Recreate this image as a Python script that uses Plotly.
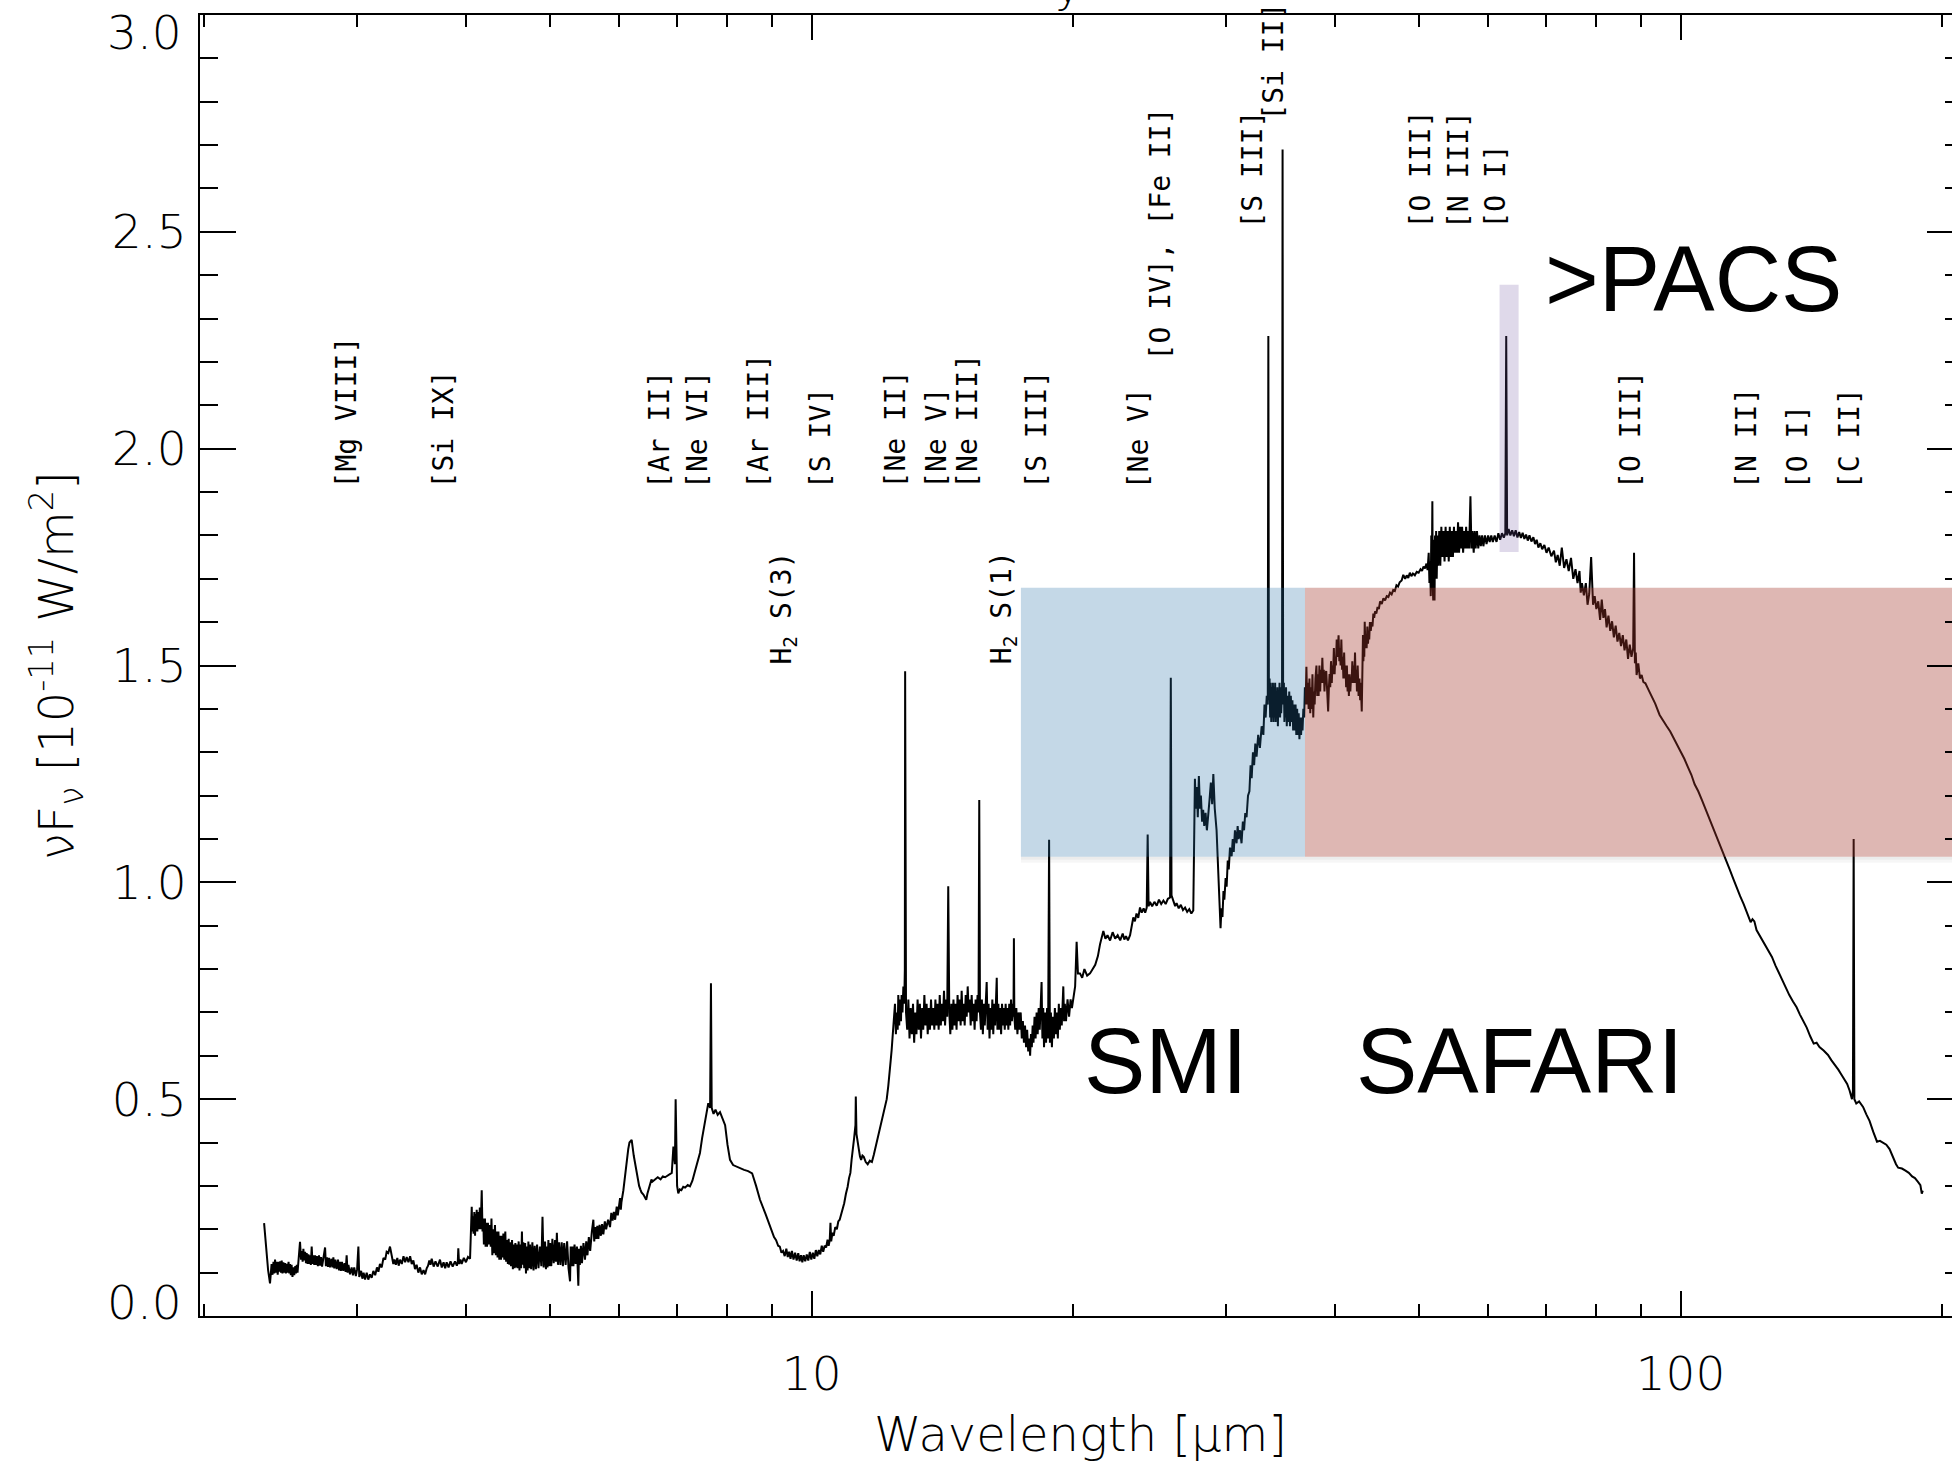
import math
import plotly.graph_objects as go

# ---------------------------------------------------------------------------
# Spectrum, read as (wavelength [micron], nu F_nu [1e-11 W/m^2]) pairs
# ---------------------------------------------------------------------------
seg_nir = [
    (2.343, 0.214), (2.355, 0.160), (2.368, 0.106), (2.380, 0.075), (2.390, 0.120),
    (2.396, 0.095), (2.402, 0.125), (2.407, 0.098), (2.412, 0.130), (2.418, 0.100),
    (2.423, 0.125), (2.429, 0.095), (2.435, 0.125), (2.440, 0.102), (2.445, 0.126),
    (2.450, 0.100), (2.455, 0.128), (2.460, 0.098), (2.466, 0.124), (2.471, 0.100),
    (2.477, 0.122), (2.482, 0.098), (2.488, 0.120), (2.494, 0.100), (2.500, 0.125),
    (2.505, 0.098), (2.510, 0.120), (2.515, 0.094), (2.520, 0.118), (2.526, 0.090),
    (2.532, 0.112), (2.538, 0.094), (2.545, 0.115), (2.550, 0.098), (2.555, 0.118),
    (2.560, 0.100), (2.565, 0.120), (2.577, 0.171), (2.584, 0.130), (2.590, 0.150),
    (2.595, 0.125), (2.600, 0.155), (2.606, 0.128), (2.612, 0.148), (2.618, 0.122),
    (2.623, 0.145), (2.629, 0.120), (2.635, 0.142), (2.640, 0.120), (2.645, 0.140),
    (2.652, 0.118), (2.658, 0.160), (2.664, 0.120), (2.670, 0.140), (2.676, 0.118),
    (2.682, 0.140), (2.688, 0.118), (2.694, 0.138), (2.702, 0.115), (2.710, 0.140),
    (2.718, 0.116), (2.725, 0.136), (2.732, 0.114), (2.740, 0.135), (2.754, 0.158),
    (2.760, 0.115), (2.768, 0.135), (2.775, 0.113), (2.782, 0.134), (2.790, 0.112),
    (2.800, 0.132), (2.808, 0.112), (2.815, 0.135), (2.822, 0.110), (2.830, 0.130),
    (2.840, 0.108), (2.850, 0.130), (2.858, 0.105), (2.865, 0.125), (2.872, 0.104),
    (2.880, 0.125), (2.890, 0.104), (2.900, 0.122), (2.908, 0.102), (2.916, 0.140),
    (2.923, 0.100), (2.930, 0.118), (2.942, 0.096), (2.955, 0.112), (2.965, 0.094),
    (2.975, 0.112), (2.988, 0.092), (2.998, 0.108), (3.008, 0.160), (3.015, 0.090),
    (3.030, 0.104), (3.040, 0.086), (3.050, 0.100), (3.062, 0.084), (3.075, 0.100),
    (3.088, 0.084), (3.102, 0.096), (3.116, 0.088), (3.130, 0.104), (3.145, 0.094),
    (3.160, 0.112), (3.172, 0.102), (3.185, 0.120), (3.200, 0.112), (3.215, 0.134),
    (3.230, 0.130), (3.242, 0.148), (3.256, 0.145), (3.271, 0.160), (3.290, 0.135),
    (3.300, 0.120), (3.310, 0.130), (3.322, 0.118), (3.335, 0.134), (3.347, 0.116),
    (3.359, 0.130), (3.375, 0.120), (3.390, 0.138), (3.405, 0.124), (3.419, 0.136),
    (3.435, 0.124), (3.450, 0.138), (3.465, 0.120), (3.480, 0.128), (3.495, 0.108),
    (3.510, 0.118), (3.526, 0.100), (3.542, 0.112), (3.558, 0.096), (3.575, 0.106),
    (3.590, 0.096), (3.605, 0.110), (3.618, 0.116), (3.630, 0.128), (3.642, 0.118),
    (3.653, 0.132), (3.672, 0.114), (3.690, 0.126), (3.712, 0.114), (3.734, 0.130),
    (3.752, 0.112), (3.770, 0.124), (3.786, 0.110), (3.801, 0.124), (3.820, 0.112),
    (3.840, 0.126), (3.862, 0.114), (3.886, 0.126), (3.905, 0.116), (3.915, 0.126),
    (3.920, 0.156), (3.928, 0.120), (3.942, 0.130), (3.955, 0.120), (3.978, 0.134),
    (4.000, 0.124), (4.022, 0.136), (4.044, 0.132),
]

seg_pah = [
    (4.062, 0.252), (4.068, 0.195), (4.075, 0.230), (4.082, 0.190), (4.090, 0.240),
    (4.098, 0.185), (4.104, 0.235), (4.110, 0.195), (4.116, 0.245), (4.123, 0.195),
    (4.131, 0.240), (4.140, 0.200), (4.150, 0.250), (4.160, 0.200), (4.171, 0.290),
    (4.180, 0.195), (4.188, 0.225), (4.195, 0.165), (4.207, 0.225), (4.214, 0.160),
    (4.220, 0.215), (4.230, 0.160), (4.240, 0.215), (4.252, 0.165), (4.264, 0.210),
    (4.272, 0.160), (4.280, 0.225), (4.290, 0.140), (4.300, 0.200), (4.310, 0.145),
    (4.320, 0.210), (4.330, 0.140), (4.340, 0.195), (4.350, 0.135), (4.360, 0.195),
    (4.370, 0.130), (4.380, 0.185), (4.390, 0.130), (4.400, 0.185), (4.408, 0.135),
    (4.417, 0.190), (4.428, 0.130), (4.440, 0.195), (4.450, 0.125), (4.460, 0.175),
    (4.470, 0.120), (4.480, 0.178), (4.488, 0.118), (4.496, 0.170), (4.508, 0.115),
    (4.520, 0.175), (4.530, 0.108), (4.540, 0.165), (4.550, 0.110), (4.560, 0.168),
    (4.568, 0.112), (4.576, 0.165), (4.588, 0.110), (4.600, 0.172), (4.610, 0.105),
    (4.620, 0.165), (4.630, 0.110), (4.640, 0.195), (4.648, 0.118), (4.657, 0.170),
    (4.668, 0.110), (4.680, 0.168), (4.690, 0.098), (4.700, 0.160), (4.710, 0.105),
    (4.720, 0.172), (4.730, 0.110), (4.740, 0.165), (4.755, 0.108), (4.770, 0.170),
    (4.785, 0.105), (4.800, 0.162), (4.815, 0.108), (4.830, 0.165), (4.848, 0.110),
    (4.867, 0.160), (4.885, 0.115), (4.900, 0.229), (4.915, 0.112), (4.933, 0.172),
    (4.945, 0.108), (4.955, 0.160), (4.965, 0.112), (4.977, 0.175), (4.988, 0.115),
    (5.000, 0.168), (5.015, 0.115), (5.030, 0.178), (5.048, 0.122), (5.066, 0.175),
    (5.078, 0.125), (5.090, 0.192), (5.105, 0.118), (5.120, 0.170), (5.138, 0.118),
    (5.156, 0.170), (5.172, 0.115), (5.190, 0.168), (5.210, 0.118), (5.230, 0.172),
    (5.250, 0.110), (5.271, 0.080), (5.280, 0.160), (5.290, 0.115), (5.304, 0.160),
    (5.318, 0.115), (5.334, 0.165), (5.350, 0.120), (5.368, 0.160), (5.388, 0.070),
    (5.398, 0.155), (5.410, 0.118), (5.425, 0.162), (5.440, 0.122), (5.462, 0.168),
    (5.484, 0.130), (5.502, 0.172), (5.520, 0.140), (5.540, 0.182), (5.560, 0.150),
    (5.585, 0.195), (5.607, 0.222), (5.620, 0.172), (5.635, 0.205), (5.650, 0.178),
    (5.666, 0.208), (5.682, 0.178), (5.700, 0.210), (5.720, 0.185), (5.738, 0.212),
    (5.757, 0.188), (5.780, 0.218), (5.800, 0.200), (5.830, 0.222), (5.860, 0.205),
    (5.880, 0.238), (5.900, 0.220), (5.920, 0.240), (5.940, 0.222), (5.965, 0.252),
    (5.982, 0.232), (6.000, 0.252), (6.018, 0.272), (6.030, 0.245), (6.040, 0.262),
    (6.071, 0.290), (6.100, 0.330), (6.125, 0.360), (6.150, 0.385), (6.170, 0.400),
    (6.206, 0.406), (6.240, 0.370), (6.262, 0.352), (6.289, 0.340), (6.310, 0.318),
    (6.330, 0.300), (6.350, 0.292), (6.370, 0.285), (6.402, 0.280), (6.425, 0.272),
    (6.450, 0.268), (6.470, 0.282), (6.490, 0.290), (6.516, 0.305), (6.540, 0.315),
    (6.560, 0.310), (6.604, 0.314), (6.650, 0.320), (6.700, 0.315), (6.740, 0.322),
    (6.781, 0.320), (6.850, 0.325), (6.902, 0.330), (6.932, 0.391), (6.960, 0.350),
    (6.973, 0.500), (6.985, 0.360), (7.000, 0.300), (7.022, 0.283), (7.050, 0.292),
    (7.080, 0.290), (7.115, 0.298), (7.150, 0.296), (7.200, 0.302), (7.243, 0.299),
    (7.290, 0.312), (7.330, 0.330), (7.385, 0.352), (7.437, 0.376), (7.480, 0.410),
    (7.520, 0.440), (7.560, 0.470), (7.603, 0.491), (7.640, 0.480), (7.657, 0.767),
    (7.672, 0.480), (7.710, 0.466), (7.750, 0.476), (7.795, 0.464), (7.843, 0.470),
    (7.900, 0.455), (7.950, 0.440), (8.000, 0.395), (8.054, 0.360), (8.120, 0.348),
    (8.197, 0.344), (8.280, 0.340), (8.360, 0.337), (8.450, 0.334), (8.540, 0.329),
    (8.630, 0.300), (8.720, 0.268), (8.850, 0.235), (8.930, 0.215), (9.000, 0.198),
    (9.050, 0.182), (9.100, 0.175), (9.150, 0.162), (9.190, 0.160), (9.230, 0.146),
    (9.270, 0.150), (9.310, 0.138), (9.350, 0.155), (9.385, 0.136), (9.420, 0.148),
    (9.455, 0.132), (9.490, 0.150), (9.530, 0.130), (9.570, 0.146), (9.610, 0.128),
    (9.650, 0.145), (9.685, 0.126), (9.720, 0.140), (9.755, 0.124), (9.790, 0.140),
    (9.830, 0.126), (9.870, 0.142), (9.910, 0.128), (9.950, 0.148), (9.990, 0.130),
    (10.030, 0.146), (10.070, 0.132), (10.110, 0.152), (10.150, 0.138), (10.190, 0.152),
    (10.230, 0.142), (10.270, 0.162), (10.310, 0.148), (10.350, 0.162), (10.390, 0.158),
    (10.430, 0.176), (10.460, 0.162), (10.490, 0.175), (10.510, 0.215), (10.530, 0.172),
    (10.565, 0.192), (10.600, 0.185), (10.645, 0.205), (10.690, 0.200), (10.730, 0.218),
    (10.770, 0.222), (10.840, 0.240), (10.900, 0.260), (10.950, 0.282), (11.000, 0.298),
    (11.040, 0.318), (11.080, 0.330), (11.115, 0.360), (11.150, 0.380), (11.190, 0.410),
    (11.230, 0.440), (11.240, 0.506), (11.260, 0.420), (11.295, 0.395), (11.330, 0.385),
    (11.365, 0.368), (11.400, 0.360), (11.440, 0.370), (11.480, 0.367), (11.540, 0.355),
    (11.600, 0.350), (11.665, 0.358), (11.730, 0.355), (11.790, 0.372), (11.850, 0.390),
    (11.900, 0.405), (11.950, 0.420), (12.000, 0.438), (12.050, 0.450), (12.100, 0.468),
    (12.150, 0.485), (12.200, 0.500), (12.250, 0.530), (12.300, 0.560), (12.330, 0.590),
    (12.360, 0.613), (12.390, 0.650), (12.420, 0.680),
]

seg_mir = [
    (12.47, 0.72), (12.50, 0.65), (12.53, 0.70), (12.56, 0.66), (12.58, 0.74),
    (12.61, 0.67), (12.64, 0.73), (12.67, 0.68), (12.69, 0.74), (12.72, 0.70),
    (12.75, 0.76), (12.78, 0.72), (12.80, 0.80), (12.81, 1.487), (12.82, 0.78),
    (12.84, 0.70), (12.88, 0.66), (12.92, 0.73), (12.96, 0.64), (13.00, 0.71),
    (13.04, 0.65), (13.08, 0.72), (13.12, 0.63), (13.16, 0.70), (13.20, 0.65),
    (13.24, 0.73), (13.28, 0.66), (13.32, 0.72), (13.36, 0.64), (13.40, 0.71),
    (13.44, 0.66), (13.48, 0.74), (13.52, 0.67), (13.56, 0.72), (13.60, 0.65),
    (13.64, 0.71), (13.68, 0.66), (13.72, 0.73), (13.76, 0.67), (13.80, 0.71),
    (13.84, 0.66), (13.88, 0.73), (13.92, 0.67), (13.96, 0.72), (14.00, 0.66),
    (14.04, 0.74), (14.08, 0.67), (14.12, 0.72), (14.16, 0.68), (14.20, 0.75),
    (14.24, 0.67), (14.28, 0.73), (14.32, 0.69), (14.36, 0.991), (14.40, 0.70),
    (14.44, 0.65), (14.48, 0.72), (14.52, 0.66), (14.56, 0.73), (14.60, 0.67),
    (14.64, 0.72), (14.68, 0.66), (14.72, 0.74), (14.76, 0.68), (14.80, 0.73),
    (14.84, 0.67), (14.88, 0.75), (14.92, 0.68), (14.96, 0.72), (15.00, 0.67),
    (15.04, 0.74), (15.08, 0.69), (15.12, 0.76), (15.16, 0.70), (15.20, 0.73),
    (15.24, 0.67), (15.28, 0.74), (15.32, 0.68), (15.36, 0.72), (15.40, 0.66),
    (15.44, 0.73), (15.48, 0.68), (15.52, 0.74), (15.56, 0.70), (15.59, 1.190),
    (15.62, 0.70), (15.66, 0.66), (15.70, 0.73), (15.74, 0.65), (15.78, 0.72),
    (15.82, 0.67), (15.86, 0.74), (15.90, 0.77), (15.94, 0.66), (15.98, 0.72),
    (16.02, 0.64), (16.06, 0.71), (16.10, 0.66), (16.14, 0.73), (16.18, 0.65),
    (16.22, 0.72), (16.26, 0.67), (16.30, 0.73), (16.33, 0.78), (16.36, 0.66),
    (16.40, 0.72), (16.44, 0.66), (16.48, 0.71), (16.52, 0.65), (16.56, 0.72),
    (16.60, 0.67), (16.64, 0.71), (16.68, 0.66), (16.72, 0.72), (16.76, 0.67),
    (16.80, 0.71), (16.84, 0.66), (16.88, 0.72), (16.92, 0.67), (16.96, 0.73),
    (17.00, 0.68), (17.04, 0.72), (17.07, 0.69), (17.09, 0.871), (17.11, 0.69),
    (17.15, 0.66), (17.20, 0.71), (17.25, 0.65), (17.30, 0.70), (17.35, 0.66),
    (17.40, 0.70), (17.45, 0.64), (17.50, 0.68), (17.55, 0.63), (17.60, 0.67),
    (17.65, 0.62), (17.70, 0.66), (17.75, 0.61), (17.80, 0.64), (17.84, 0.60),
    (17.88, 0.65), (17.92, 0.62), (17.96, 0.67), (18.00, 0.63), (18.05, 0.69),
    (18.10, 0.64), (18.15, 0.70), (18.20, 0.65), (18.25, 0.71), (18.30, 0.66),
    (18.35, 0.72), (18.39, 0.77), (18.43, 0.64), (18.47, 0.71), (18.51, 0.62),
    (18.56, 0.70), (18.61, 0.63), (18.66, 0.71), (18.71, 0.64), (18.76, 1.098),
    (18.80, 0.63), (18.85, 0.70), (18.90, 0.62), (18.95, 0.69), (19.00, 0.64),
    (19.05, 0.71), (19.10, 0.65), (19.15, 0.70), (19.20, 0.64), (19.25, 0.72),
    (19.30, 0.66), (19.35, 0.71), (19.40, 0.67), (19.45, 0.73), (19.48, 0.76),
    (19.52, 0.68), (19.56, 0.72), (19.62, 0.68), (19.70, 0.73), (19.78, 0.69),
    (19.86, 0.73), (19.93, 0.71), (20.01, 0.74), (20.10, 0.76), (20.18, 0.863),
    (20.25, 0.79), (20.36, 0.79), (20.48, 0.78), (20.60, 0.80), (20.75, 0.785),
    (20.91, 0.79), (21.05, 0.80), (21.20, 0.81), (21.35, 0.83), (21.47, 0.857),
]

seg_sil = [
    (21.66, 0.888), (21.78, 0.870), (21.90, 0.878), (22.05, 0.866), (22.20, 0.885),
    (22.35, 0.870), (22.50, 0.878), (22.65, 0.866), (22.80, 0.882), (22.90, 0.868),
    (23.00, 0.876), (23.12, 0.866), (23.25, 0.878), (23.45, 0.919), (23.55, 0.910),
    (23.65, 0.928), (23.76, 0.918), (23.87, 0.942), (23.98, 0.930), (24.10, 0.940),
    (24.20, 0.930), (24.30, 0.942), (24.36, 1.110), (24.42, 0.945), (24.51, 0.955),
    (24.65, 0.945), (24.80, 0.955), (24.95, 0.946), (25.10, 0.960), (25.25, 0.950),
    (25.40, 0.958), (25.55, 0.950), (25.70, 0.962), (25.85, 0.965), (25.90, 1.4715),
    (25.95, 0.970), (26.10, 0.955), (26.20, 0.945), (26.30, 0.952), (26.45, 0.940),
    (26.60, 0.948), (26.75, 0.936), (26.90, 0.942), (27.05, 0.932), (27.20, 0.938),
    (27.35, 0.928), (27.49, 0.935), (27.61, 1.239), (27.68, 1.17), (27.75, 1.22),
    (27.82, 1.15), (27.90, 1.245), (27.98, 1.17), (28.05, 1.20), (28.14, 1.14),
    (28.22, 1.167), (28.30, 1.13), (28.40, 1.16), (28.50, 1.12), (28.60, 1.15),
    (28.70, 1.19), (28.80, 1.23), (28.90, 1.18), (28.99, 1.25), (29.10, 1.17),
    (29.24, 1.12), (29.32, 1.05), (29.40, 0.98), (29.48, 0.93), (29.55, 0.894),
    (29.62, 0.94), (29.70, 0.92), (29.78, 0.98), (29.85, 0.96), (29.95, 1.01),
    (30.03, 0.99), (30.12, 1.05), (30.20, 1.03), (30.30, 1.08), (30.43, 1.06),
    (30.52, 1.10), (30.60, 1.07), (30.70, 1.12), (30.83, 1.09), (30.92, 1.13),
    (31.00, 1.10), (31.12, 1.12), (31.24, 1.09), (31.35, 1.14), (31.45, 1.12),
    (31.55, 1.16), (31.66, 1.15), (31.78, 1.20), (31.90, 1.21), (32.00, 1.27),
    (32.09, 1.24), (32.20, 1.30), (32.30, 1.27), (32.40, 1.32), (32.51, 1.29),
    (32.65, 1.34), (32.80, 1.31), (32.95, 1.36), (33.10, 1.34), (33.20, 1.41),
    (33.30, 1.38), (33.40, 1.43), (33.49, 1.41), (33.54, 2.26), (33.59, 1.42),
    (33.65, 1.47), (33.70, 1.38), (33.75, 1.46), (33.80, 1.37), (33.85, 1.45),
    (33.90, 1.38), (33.95, 1.46), (34.00, 1.37), (34.05, 1.45), (34.10, 1.38),
    (34.15, 1.46), (34.20, 1.37), (34.25, 1.44), (34.30, 1.38), (34.35, 1.45),
    (34.40, 1.36), (34.45, 1.44), (34.50, 1.39), (34.55, 1.46), (34.60, 1.38),
    (34.65, 1.45), (34.70, 1.39), (34.78, 1.44), (34.83, 2.69), (34.88, 1.41),
    (34.95, 1.46), (35.00, 1.37), (35.05, 1.44), (35.10, 1.38), (35.15, 1.45),
    (35.22, 1.36), (35.30, 1.43), (35.38, 1.37), (35.45, 1.44), (35.52, 1.36),
    (35.60, 1.43), (35.68, 1.37), (35.75, 1.42), (35.82, 1.35), (35.90, 1.41),
    (35.98, 1.35), (36.05, 1.41), (36.12, 1.34), (36.20, 1.40), (36.28, 1.34),
    (36.35, 1.39), (36.42, 1.33), (36.50, 1.38), (36.58, 1.34), (36.65, 1.38),
    (36.72, 1.35), (36.80, 1.40), (36.88, 1.38), (36.95, 1.45), (37.02, 1.41),
    (37.10, 1.497), (37.18, 1.41), (37.25, 1.46), (37.32, 1.40), (37.40, 1.47),
    (37.48, 1.39), (37.55, 1.45), (37.62, 1.40), (37.70, 1.48), (37.78, 1.38),
    (37.85, 1.44), (37.92, 1.41), (38.00, 1.47), (38.10, 1.50), (38.18, 1.43),
    (38.25, 1.48), (38.32, 1.43), (38.40, 1.50), (38.48, 1.44), (38.55, 1.49),
    (38.62, 1.46), (38.70, 1.518), (38.78, 1.46), (38.85, 1.49), (38.92, 1.44),
    (39.00, 1.48), (39.10, 1.487), (39.20, 1.43), (39.30, 1.394), (39.38, 1.45),
    (39.45, 1.48), (39.52, 1.45), (39.60, 1.51), (39.68, 1.46), (39.75, 1.50),
    (39.82, 1.48), (39.90, 1.54), (39.98, 1.48), (40.05, 1.52), (40.12, 1.50),
    (40.20, 1.56), (40.30, 1.52), (40.40, 1.5696), (40.48, 1.51), (40.55, 1.54),
    (40.62, 1.50), (40.70, 1.56), (40.78, 1.49), (40.85, 1.52), (40.92, 1.47),
    (41.00, 1.53), (41.08, 1.47), (41.15, 1.50), (41.22, 1.45), (41.30, 1.50),
    (41.38, 1.44), (41.45, 1.48), (41.52, 1.43), (41.60, 1.48), (41.68, 1.44),
    (41.75, 1.47), (41.82, 1.46), (41.90, 1.51), (41.98, 1.46), (42.05, 1.50),
    (42.12, 1.46), (42.20, 1.53), (42.28, 1.46), (42.35, 1.49), (42.42, 1.44),
    (42.50, 1.50), (42.60, 1.43), (42.70, 1.47), (42.78, 1.42), (42.85, 1.46),
    (42.96, 1.394), (43.03, 1.50), (43.10, 1.57), (43.15, 1.51), (43.20, 1.55),
    (43.25, 1.52), (43.30, 1.6006), (43.38, 1.54), (43.45, 1.57), (43.52, 1.54),
    (43.60, 1.59), (43.68, 1.55), (43.75, 1.58), (43.82, 1.56), (43.90, 1.60),
    (44.00, 1.58), (44.10, 1.60), (44.20, 1.59), (44.30, 1.62), (44.40, 1.61),
    (44.50, 1.625), (44.65, 1.62), (44.80, 1.635), (44.95, 1.63), (45.10, 1.648),
    (45.30, 1.642), (45.50, 1.655), (45.70, 1.650), (45.90, 1.660), (46.10, 1.658),
    (46.30, 1.668), (46.50, 1.664), (46.70, 1.674), (46.90, 1.672), (47.10, 1.685),
    (47.30, 1.682), (47.50, 1.692), (47.75, 1.696), (47.96, 1.709), (48.20, 1.700),
    (48.40, 1.708), (48.60, 1.702), (48.80, 1.714), (49.00, 1.706), (49.20, 1.712),
    (49.45, 1.708), (49.70, 1.716), (49.95, 1.714), (50.20, 1.722), (50.40, 1.718),
    (50.60, 1.728), (50.80, 1.724), (51.00, 1.735),
]

seg_peak = [
    (51.15, 1.72), (51.30, 1.76), (51.40, 1.69), (51.50, 1.74), (51.58, 1.66),
    (51.65, 1.80), (51.72, 1.70), (51.80, 1.879), (51.86, 1.68), (51.92, 1.65),
    (51.98, 1.79), (52.04, 1.70), (52.10, 1.65), (52.17, 1.80), (52.25, 1.71),
    (52.32, 1.81), (52.40, 1.70), (52.50, 1.80), (52.60, 1.73), (52.75, 1.81),
    (52.90, 1.73), (53.05, 1.82), (53.20, 1.75), (53.35, 1.81), (53.50, 1.74),
    (53.65, 1.82), (53.80, 1.75), (53.95, 1.81), (54.10, 1.74), (54.25, 1.82),
    (54.40, 1.75), (54.55, 1.81), (54.70, 1.75), (54.85, 1.82), (55.00, 1.76),
    (55.15, 1.81), (55.30, 1.76), (55.45, 1.83), (55.60, 1.76), (55.75, 1.82),
    (55.90, 1.77), (56.05, 1.82), (56.20, 1.76), (56.35, 1.81), (56.50, 1.77),
    (56.65, 1.82), (56.80, 1.77), (56.95, 1.81), (57.10, 1.77), (57.30, 1.89),
    (57.45, 1.77), (57.60, 1.81), (57.80, 1.76), (57.95, 1.81), (58.10, 1.77),
    (58.30, 1.81), (58.50, 1.77), (58.70, 1.80), (58.90, 1.775), (59.10, 1.80),
    (59.30, 1.775), (59.55, 1.80), (59.80, 1.78), (60.05, 1.80), (60.30, 1.785),
    (60.55, 1.80), (60.80, 1.785), (61.10, 1.80), (61.40, 1.785), (61.70, 1.805),
    (62.00, 1.79), (62.30, 1.805), (62.60, 1.795), (62.85, 1.805), (63.00, 2.26),
    (63.15, 1.80), (63.40, 1.815), (63.70, 1.80),
]

seg_fir = [
    (64.0, 1.812), (64.3, 1.798), (64.6, 1.812), (64.9, 1.795), (65.2, 1.808),
    (65.5, 1.794), (65.8, 1.806), (66.1, 1.792), (66.4, 1.802), (66.7, 1.788),
    (67.0, 1.800), (67.35, 1.786), (67.7, 1.796), (68.0, 1.780), (68.3, 1.790),
    (68.6, 1.772), (68.96, 1.782), (69.3, 1.768), (69.7, 1.778), (70.1, 1.760),
    (70.5, 1.772), (71.0, 1.752), (71.5, 1.765), (71.85, 1.738), (72.2, 1.755),
    (72.6, 1.730), (73.0, 1.772), (73.45, 1.725), (73.9, 1.745), (74.35, 1.718),
    (74.8, 1.748), (75.25, 1.700), (75.7, 1.722), (76.1, 1.690), (76.5, 1.718),
    (76.75, 1.668), (77.0, 1.690), (77.4, 1.662), (77.8, 1.690), (78.15, 1.640),
    (78.5, 1.665), (78.9, 1.750), (79.3, 1.640), (79.65, 1.660), (80.0, 1.630),
    (80.4, 1.648), (80.8, 1.605), (81.15, 1.652), (81.5, 1.610), (81.85, 1.630),
    (82.2, 1.588), (82.6, 1.615), (83.0, 1.580), (83.4, 1.602), (83.8, 1.565),
    (84.2, 1.592), (84.6, 1.555), (85.0, 1.575), (85.4, 1.545), (85.8, 1.570),
    (86.2, 1.535), (86.6, 1.560), (87.0, 1.515), (87.4, 1.548), (87.8, 1.520),
    (88.2, 1.540), (88.4, 1.760), (88.6, 1.505), (88.8, 1.530), (89.0, 1.478),
    (89.4, 1.505), (89.8, 1.470), (90.2, 1.478), (90.6, 1.462), (91.1, 1.459),
    (91.8, 1.445), (92.5, 1.432), (93.5, 1.412), (94.6, 1.386), (95.5, 1.372),
    (96.4, 1.360), (97.3, 1.348), (98.2, 1.333), (99.1, 1.318), (100.0, 1.300),
    (101.0, 1.285), (102.0, 1.265), (102.9, 1.248), (103.8, 1.226), (104.8, 1.210),
    (105.8, 1.190), (106.7, 1.172), (107.7, 1.153), (108.7, 1.130), (109.8, 1.110),
    (110.8, 1.092), (111.8, 1.074), (112.8, 1.052), (113.9, 1.030), (115.0, 1.008),
    (116.0, 0.987), (117.1, 0.968), (118.2, 0.950), (119.3, 0.928), (120.4, 0.908),
    (121.0, 0.915), (121.6, 0.910), (122.3, 0.890), (123.5, 0.875), (124.8, 0.860),
    (126.1, 0.845), (127.4, 0.828), (128.6, 0.808), (129.8, 0.790), (131.0, 0.772),
    (132.2, 0.755), (133.4, 0.740), (134.7, 0.725), (136.0, 0.712), (137.2, 0.695),
    (138.4, 0.680), (139.7, 0.665), (141.0, 0.645), (142.3, 0.628), (143.4, 0.630),
    (144.5, 0.620), (146.1, 0.612), (147.8, 0.602), (149.1, 0.590), (150.5, 0.580),
    (151.9, 0.568), (153.3, 0.555), (154.4, 0.545), (155.5, 0.535), (156.5, 0.520),
    (157.5, 0.500), (157.9, 0.520), (158.2, 1.100), (158.5, 0.500), (159.3, 0.490),
    (160.5, 0.495), (161.3, 0.488), (162.2, 0.482), (163.6, 0.465), (165.0, 0.450),
    (166.6, 0.425), (168.3, 0.402), (169.6, 0.404), (171.0, 0.400), (172.5, 0.395),
    (174.0, 0.385), (175.0, 0.372), (176.0, 0.360), (177.0, 0.350), (178.0, 0.342),
    (179.8, 0.340), (181.5, 0.335), (183.1, 0.330), (184.7, 0.322), (186.1, 0.318),
    (187.5, 0.310), (188.8, 0.302), (189.5, 0.282), (190.0, 0.289),
]

spectrum = seg_nir + seg_pah + seg_mir + seg_sil + seg_peak + seg_fir
wavelength = [p[0] for p in spectrum]
flux = [p[1] for p in spectrum]

# ---------------------------------------------------------------------------
# Instrument coverage (wavelength range in micron, flux range)
# ---------------------------------------------------------------------------
smi_wl = (17.41, 36.96)
safari_wl = (36.96, 230.0)
band_flux = (1.059, 1.679)
band_shadow = 0.014
pacs_wl = (61.9, 65.1)
pacs_flux = (1.762, 2.378)

# ---------------------------------------------------------------------------
# Line identifications: text, wavelength of label centre, flux of label base
# ---------------------------------------------------------------------------
line_text = [
    "[Mg VIII]", "[Si IX]", "[Ar II]", "[Ne VI]", "[Ar III]", "[S IV]",
    "[Ne II]", "[Ne V]", "[Ne III]", "[S III]", "[Ne V]", "[O III]",
    "[N II]", "[O I]", "[C II]",
    "H<sub>2</sub> S(3)", "H<sub>2</sub> S(1)",
    "[O IV], [Fe II]", "[S III]", "[Si II]", "[O III]", "[N III]", "[O I]",
]
line_wl = [
    2.915, 3.77, 6.69, 7.40, 8.68, 10.24,
    12.49, 13.92, 15.11, 18.16, 23.74, 87.7,
    119.1, 136.6, 156.6,
    9.28, 16.61,
    25.17, 32.2, 34.04, 50.24, 55.5, 61.3,
]
line_base = [
    1.905, 1.905, 1.905, 1.905, 1.905, 1.905,
    1.905, 1.905, 1.905, 1.905, 1.905, 1.905,
    1.905, 1.905, 1.905,
    1.500, 1.500,
    2.200, 2.505, 2.754, 2.505, 2.505, 2.505,
]

# Instrument names: text, left-edge wavelength, flux at text middle
inst_text = ["SMI", "SAFARI", ">PACS"]
inst_wl = [20.52, 42.2, 69.6]
inst_flux = [0.588, 0.588, 2.392]

# y tick labels: the two end labels are nudged inside the frame
y_major = [0.0, 0.5, 1.0, 1.5, 2.0, 2.5, 3.0]
y_labels = ["", "0.5", "1.0", "1.5", "2.0", "2.5", ""]
y_end_values = [0.0, 3.0]
y_end_labels = ["0.0", "3.0"]
y_end_shift = [14, -17]
x_major = [10, 100]
x_labels = ["10", "100"]
x_minor = [2, 3, 4, 5, 6, 7, 8, 9, 20, 30, 40, 50, 60, 70, 80, 90, 200]

X_RANGE = [math.log10(1.977), math.log10(205.3)]
Y_RANGE = [0, 3]

TICK_FONT = dict(family="DejaVu Sans, sans-serif", size=47, color="black", weight=200)
TITLE_FONT = dict(family="DejaVu Sans, sans-serif", size=48, color="black", weight=200)
LABEL_FONT = dict(family="DejaVu Sans Mono, monospace", size=28, color="black")
BIG_FONT = dict(family="Liberation Sans, Arial, sans-serif", size=92, color="black")


def box(x0, x1, y0, y1, color):
    return go.Scatter(
        x=[x0, x1, x1, x0, x0], y=[y0, y0, y1, y1, y0],
        mode="lines", fill="toself", fillcolor=color,
        line=dict(width=0, color="rgba(0,0,0,0)"),
        hoverinfo="skip", showlegend=False,
    )


fig = go.Figure()

fig.add_trace(go.Scatter(
    x=wavelength, y=flux, mode="lines",
    line=dict(color="black", width=2),
    hoverinfo="skip", showlegend=False,
))

# soft shadow under the coverage boxes
fig.add_trace(box(smi_wl[0], safari_wl[1], band_flux[0] - band_shadow, band_flux[0],
                  "rgba(0,0,0,0.035)"))
fig.add_trace(box(smi_wl[0], safari_wl[1], band_flux[0] - band_shadow / 2, band_flux[0],
                  "rgba(0,0,0,0.04)"))

# translucent coverage boxes drawn over the spectrum
fig.add_trace(box(smi_wl[0], smi_wl[1], band_flux[0], band_flux[1], "rgba(37,112,168,0.27)"))
fig.add_trace(box(safari_wl[0], safari_wl[1], band_flux[0], band_flux[1], "rgba(164,55,44,0.36)"))
fig.add_trace(box(pacs_wl[0], pacs_wl[1], pacs_flux[0], pacs_flux[1], "rgba(110,80,160,0.22)"))

# helper traces so the minor-tick x axis and the right-hand y axis are drawn
fig.add_trace(go.Scatter(x=[10], y=[1], xaxis="x2", yaxis="y", mode="markers",
                         marker=dict(opacity=0), hoverinfo="skip", showlegend=False))
fig.add_trace(go.Scatter(x=[10], y=[1], xaxis="x", yaxis="y2", mode="markers",
                         marker=dict(opacity=0), hoverinfo="skip", showlegend=False))

annotations = []
for txt, wl, base in zip(line_text, line_wl, line_base):
    annotations.append(dict(
        x=math.log10(wl), y=base, xref="x", yref="y", text=txt,
        textangle=-90, xanchor="center", yanchor="bottom",
        showarrow=False, font=LABEL_FONT, borderpad=0,
    ))

for txt, wl, fl in zip(inst_text, inst_wl, inst_flux):
    annotations.append(dict(
        x=math.log10(wl), y=fl, xref="x", yref="y", text=txt,
        xanchor="left", yanchor="middle", showarrow=False,
        font=BIG_FONT, borderpad=0,
    ))

for val, txt, shift in zip(y_end_values, y_end_labels, y_end_shift):
    annotations.append(dict(
        x=0, y=val, xref="paper", yref="y", xshift=-17, yshift=shift,
        text=txt, xanchor="right", yanchor="middle", showarrow=False,
        font=TICK_FONT, borderpad=0,
    ))

# axis titles
annotations.append(dict(
    x=(1080 - 200) / 1752, y=0, xref="paper", yref="paper", yshift=-118,
    text="Wavelength [\u03bcm]", xanchor="center", yanchor="middle",
    showarrow=False, font=TITLE_FONT,
))
annotations.append(dict(
    x=0, y=(1316 - 666) / 1301, xref="paper", yref="paper", xshift=-144,
    text="\u03bdF<sub>\u03bd</sub> [10<sup>-11</sup> W/m<sup>2</sup>]",
    textangle=-90, xanchor="center", yanchor="middle",
    showarrow=False, font=TITLE_FONT,
))
# tail of the title text running above the frame
annotations.append(dict(
    x=(1068 - 200) / 1752, y=(1316 - 13) / 1301, xref="paper", yref="paper",
    text="y", xanchor="center", yanchor="bottom", showarrow=False,
    font=dict(TITLE_FONT, size=44), borderpad=0,
))

axis_common = dict(showgrid=False, zeroline=False, tickcolor="black", tickwidth=2,
                   linecolor="black", linewidth=2, automargin=False)

fig.update_layout(
    width=1952, height=1463,
    margin=dict(l=200, r=0, t=15, b=147, autoexpand=False),
    paper_bgcolor="white", plot_bgcolor="white",
    showlegend=False,
    xaxis=dict(
        type="log", range=X_RANGE, tickmode="array", tickvals=x_major, ticktext=x_labels,
        ticks="inside", ticklen=25, showline=True, mirror="ticks",
        tickfont=TICK_FONT, ticklabelstandoff=16, ticklabeloverflow="allow",
        **axis_common,
    ),
    xaxis2=dict(
        type="log", range=X_RANGE, overlaying="x", anchor="y", tickmode="array",
        tickvals=x_minor, ticks="inside", ticklen=12, showline=True, mirror="ticks",
        showticklabels=False, **axis_common,
    ),
    yaxis=dict(
        range=Y_RANGE, tickmode="array", tickvals=y_major, ticktext=y_labels,
        ticks="inside", ticklen=36, showline=True, mirror=False,
        minor=dict(ticks="inside", ticklen=18, tickwidth=2, tickcolor="black",
                   dtick=0.1, showgrid=False),
        tickfont=TICK_FONT, ticklabelstandoff=2, ticklabeloverflow="allow",
        **axis_common,
    ),
    yaxis2=dict(
        range=Y_RANGE, overlaying="y", side="right", anchor="x", tickmode="array",
        tickvals=y_major, ticks="inside", ticklen=25, showline=False,
        showticklabels=False,
        minor=dict(ticks="inside", ticklen=7, tickwidth=2, tickcolor="black",
                   dtick=0.1, showgrid=False),
        **axis_common,
    ),
    annotations=annotations,
)

fig.write_html("out.html")
